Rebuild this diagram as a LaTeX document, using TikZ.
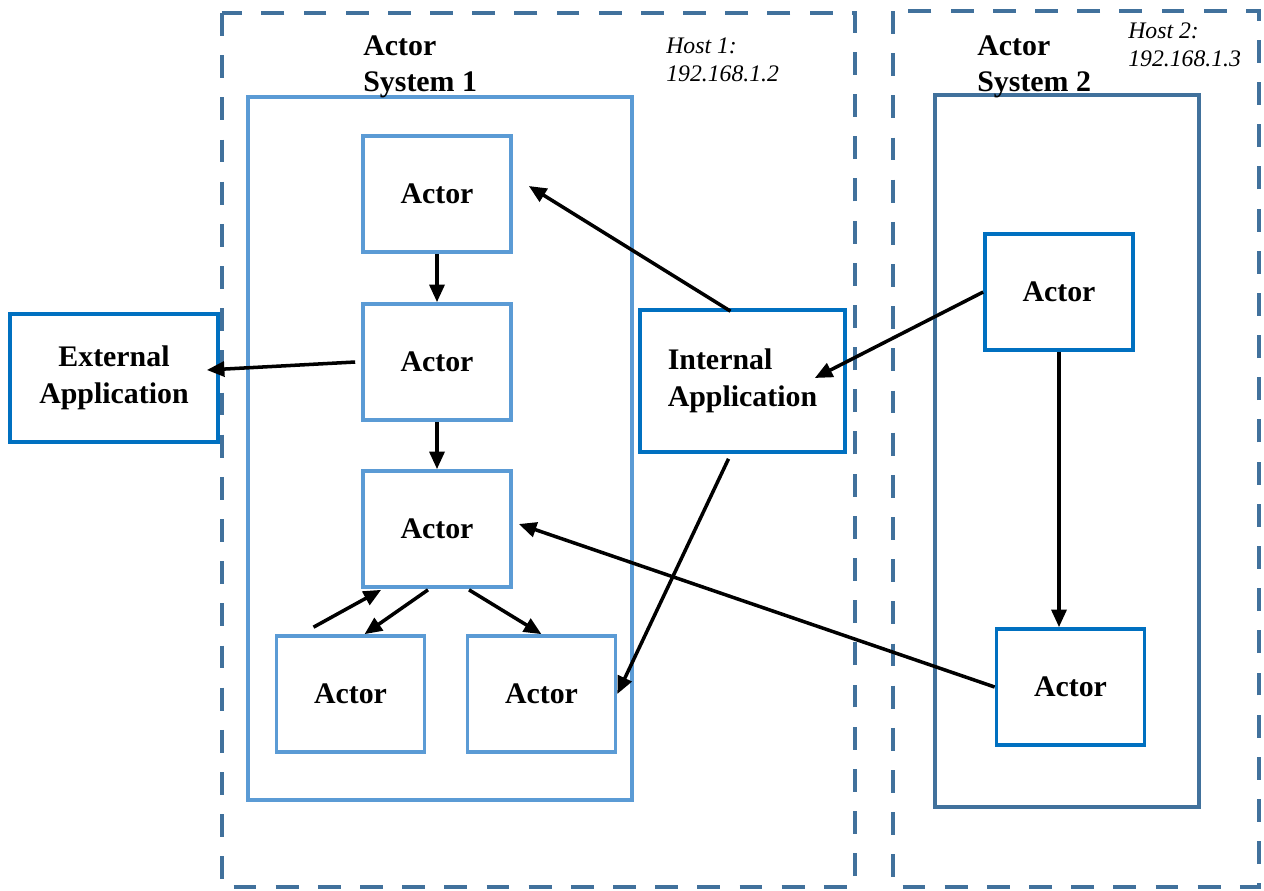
\documentclass[tikz,border=0pt]{standalone}
\usepackage{fontspec}
\setmainfont{Liberation Serif}
\usetikzlibrary{arrows.meta,calc}
\definecolor{hostblue}{HTML}{41719C}
\definecolor{sysblue}{HTML}{5B9BD5}
\definecolor{appblue}{HTML}{0070C0}
\begin{document}
\begin{tikzpicture}[x=0.02cm, y=-0.02cm, >={Triangle[length=10pt,width=8.5pt]},
   host_box/.style={draw=hostblue, line width=2.6pt, dash pattern=on 13pt off 11pt},
   actor_box/.style={rectangle, draw=sysblue, line width=2.1pt, minimum width=2.96cm,
     minimum height=2.32cm, font=\bfseries\fontsize{17}{21}\selectfont},
   app_box/.style={rectangle, draw=appblue, line width=2.1pt,
     font=\bfseries\fontsize{17}{21}\selectfont},
   sys_text/.style={anchor=north west, inner sep=0pt, align=left,
     font=\bfseries\fontsize{17}{21}\selectfont},
   host_text/.style={anchor=north west, inner sep=0pt, align=left,
     font=\itshape\fontsize{13.5}{16}\selectfont},
   msg/.style={->, draw=black, line width=2pt}]
	  \useasboundingbox (0,0) rectangle (1264,890);

	  % hosts and actor systems
	  \draw [host_box] (222,13) rectangle (855,887);
	  \draw [host_box] (893,11) rectangle (1259,887);
	  \draw [draw=sysblue, line width=2.6pt] (248,97) rectangle (632,800);
	  \draw [draw=hostblue, line width=2.8pt] (935,95) rectangle (1199,807);

	  \node [sys_text] (sys1) at (363,35) {Actor\\System 1};
	  \node [sys_text] (sys2) at (977,35) {Actor\\System 2};
	  \node [host_text] (host1) at (666,37) {Host 1:\\192.168.1.2};
	  \node [host_text] (host2) at (1128,22) {Host 2:\\192.168.1.3};

	  % actors
	  \node [actor_box] (a1) at (437,194) {Actor};
	  \node [actor_box] (a2) at (437,362) {Actor};
	  \node [actor_box] (a3) at (437,529) {Actor};
	  \node [actor_box] (a4) at (350.5,694) {Actor};
	  \node [actor_box] (a5) at (541.5,694) {Actor};
	  \node [actor_box, draw=appblue] (b1) at (1059,292) {Actor};
	  \node [actor_box, draw=appblue] (b2) at (1070.5,687) {Actor};

	  % applications
	  \node [app_box, align=center, minimum width=4.16cm, minimum height=2.56cm] (ext) at (114,378) {External\\Application};
	  \node [app_box, align=left, minimum width=4.1cm, minimum height=2.84cm] (int) at (742.5,381) {Internal\\Application};

	  % messages
	  \foreach \from/\to in {a1.south/a2.north, a2.south/a3.north}
	    \draw [msg] (\from) -- (\to);
	  \draw [msg] ($(int.north)+(-12,3)$) -- ($(a1.east)+(16,-8)$);
	  \draw [msg] ($(a2.west)+(-6,0)$) -- ($(ext.east)+(-13,-8)$);
	  \draw [msg] (b1.west) -- ($(int.east)+(-32,-3)$);
	  \draw [msg] ($(int.south)+(-14,5)$) -- (a5.east);
	  \draw [msg] (b2.west) -- ($(a3.east)+(6,-5)$);
	  \draw [msg] (b1.south) -- (b1.south |- b2.north);
	  \draw [msg] ($(a4.north)+(-37,-7)$) -- ($(a3.south west)+(20,1)$);
	  \draw [msg] ($(a3.south)+(-9,1)$) -- ($(a4.north)+(14,0)$);
	  \draw [msg] ($(a3.south)+(32,1)$) -- (a5.north);

	\end{tikzpicture}
\end{document}
